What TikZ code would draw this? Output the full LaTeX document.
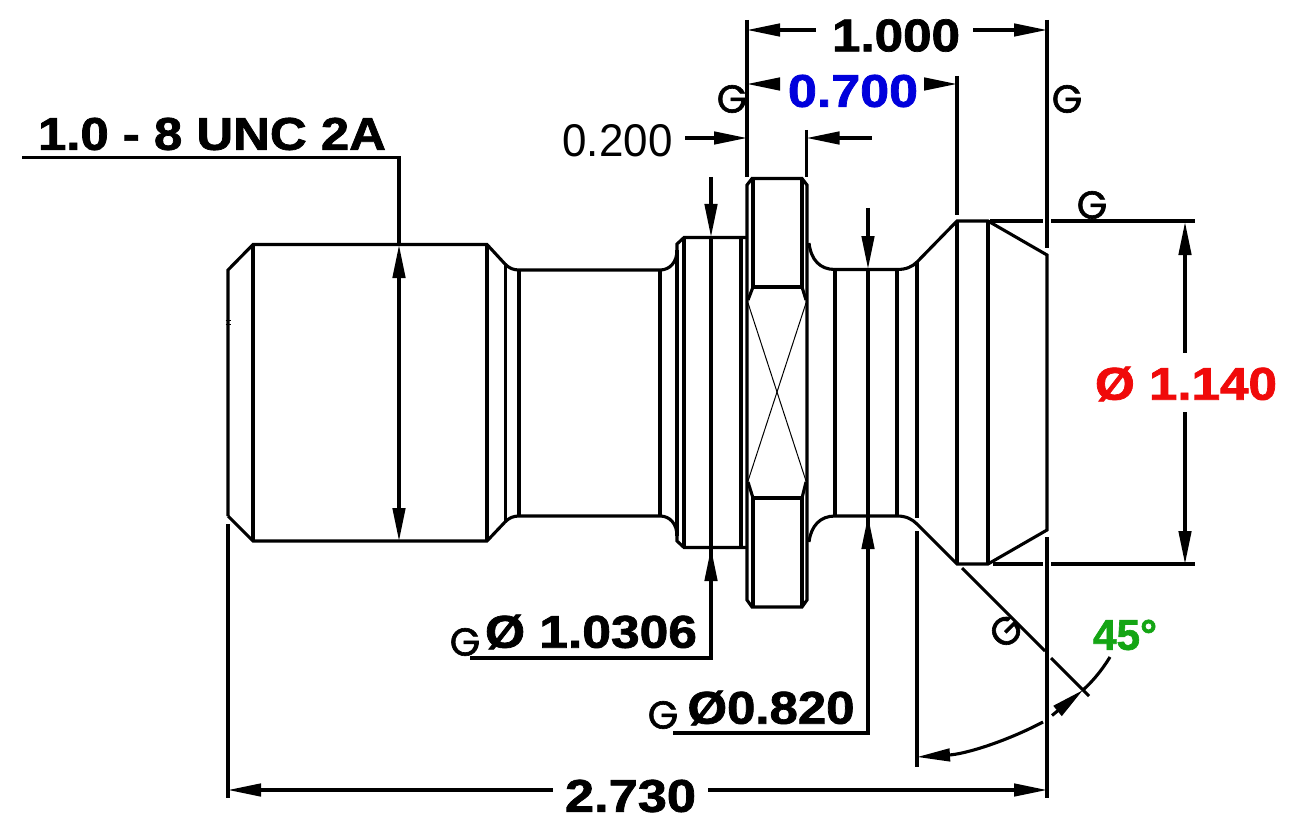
\documentclass[tikz,border=0pt]{standalone}
\usepackage{fontspec}
\usepackage{graphicx}
\usetikzlibrary{arrows.meta}
\setmainfont{Liberation Sans}
\newfontfamily\heavyfont[FakeBold=1.5]{Liberation Sans Bold}
\newfontfamily\gfont[FakeBold=1.6]{Poppins}
\definecolor{dimblue}{RGB}{0,0,220}
\definecolor{dimred}{RGB}{240,10,10}
\definecolor{dimgreen}{RGB}{20,165,20}
\newcommand{\fit}[3]{\resizebox{#1pt}{#2pt}{\heavyfont #3}}
\tikzset{
  part/.style={line width=3.1pt,black,line join=miter},
  thinpart/.style={line width=1pt,black},
  dimline/.style={line width=3.1pt,black},
  tipend/.style={-{Triangle[length=33pt,width=12.5pt]}},
  tipstart/.style={{Triangle[length=33pt,width=12.5pt]}-},
  tipboth/.style={{Triangle[length=33pt,width=12.5pt]}-{Triangle[length=33pt,width=12.5pt]}},
  lbl/.style={inner sep=0pt,outer sep=0pt,anchor=center},
  gmark/.style={inner sep=0pt,outer sep=0pt,anchor=center,font=\gfont\fontsize{39}{39}\selectfont},
}
\begin{document}
\begin{tikzpicture}[x=1pt,y=-1pt]
\useasboundingbox (0,0) rectangle (1295,837);
\fill[white] (0,0) rectangle (1295,837);
% outline upper half and lower half
\draw[part] (228,516) -- (228,270) -- (253,244.5) -- (487,244.5) -- (505,264)
  .. controls (509,268) and (513,270) .. (519,270) -- (660,270)
  .. controls (670,270) and (677,262) .. (677,250) -- (677,244) -- (684,237.5) -- (746,237.5);
\draw[part] (228,516) -- (253,541) -- (487,541) -- (505,522)
  .. controls (509,518) and (513,516) .. (519,516) -- (660,516)
  .. controls (670,516) and (677,524) .. (677,536) -- (677,541) -- (684,547.5) -- (746,547.5);
% neck verticals
\draw[part] (253,244.5) -- (253,541);
\draw[part] (487,244.5) -- (487,541);
\draw[part] (505.5,264) -- (505.5,522);
\draw[part] (519,270) -- (519,516);
\draw[part] (660,270) -- (660,516);
\draw[part] (677,250) -- (677,536);
\draw[part] (684,237.5) -- (684,547.5);
\draw[part] (741,237.5) -- (741,547.5);
% flange
\draw[part] (752,178.5) -- (802,178.5) -- (807,185) -- (807,600) -- (802,607) -- (752,607) -- (747,600) -- (747,185) -- cycle;
\draw[part] (753,178.5) -- (753,287) -- (802,287) -- (802,178.5);
\draw[part] (753,607) -- (753,498) -- (802,498) -- (802,607);
\draw[part] (753,287) -- (748,300);
\draw[part] (802,287) -- (806,300);
\draw[part] (753,498) -- (748,482);
\draw[part] (802,498) -- (806,482);
\draw[thinpart] (748,303) -- (806,481);
\draw[thinpart] (806,303) -- (748,481);
% head
\draw[part] (809,243) .. controls (811,260) and (820,269.5) .. (835,269.5) -- (897,269.5)
  .. controls (906,269.5) and (912,267) .. (917,262) -- (957,221) -- (988,221) -- (1047,255) -- (1047,530) -- (988,564) -- (957,564) -- (917,524)
  .. controls (912,519) and (906,516) .. (897,516) -- (835,516)
  .. controls (820,516) and (811,526) .. (809,542);
\draw[part] (835,269.5) -- (835,516);
\draw[part] (897,269.5) -- (897,516);
\draw[part] (917,262) -- (917,518);
\draw[part] (957,221) -- (957,564);
\draw[part] (988,221) -- (988,564);
% centre tick
\draw[line width=1pt] (225.5,320) -- (231,320) (225.5,324) -- (231,324);
% extension lines
\coordinate (exA) at (747,20);
\coordinate (exB) at (1047,20);
\draw[dimline] (exA) -- (747,177);
\draw[dimline] (exB) -- (1047,248);
\draw[dimline] (1047,537) -- (1047,798);
\draw[dimline] (806.5,130) -- (806.5,177);
\draw[dimline] (957,76) -- (957,215);
\draw[dimline] (228,524) -- (228,798);
\draw[dimline] (990,221) -- (1043,221) (1051,221) -- (1195,221);
\draw[dimline] (993,564) -- (1043,564) (1051,564) -- (1195,564);
\draw[dimline] (917,531) -- (917,767);
\draw[dimline] (962,568) -- (1045,651) (1051,658) -- (1089,696);
% 1.000
\node[lbl] (d1000) at (896,35.5) {\fit{128}{32}{1.000}};
\draw[dimline,tipstart] (747,30) -- (816,30);
\draw[dimline,tipend] (973,30) -- (1047,30);
% 0.700
\node[lbl] (d700) at (853,91) {\textcolor{dimblue}{\fit{130}{32}{0.700}}};
\draw[dimline,tipstart] (747,84) -- (780,84);
\draw[dimline,tipstart] (957,84) -- (924,84);
% 0.200
\node[lbl] (d200) at (617.5,141) {\resizebox{110pt}{32pt}{0.200}};
\draw[dimline,tipend] (685,138) -- (747,138);
\draw[dimline,tipstart] (806.5,138) -- (872,138);
% thread
\node[lbl] (thread) at (212,134) {\fit{348}{32}{1.0 - 8 UNC 2A}};
\draw[dimline] (22,157.5) -- (399,157.5) -- (399,245);
\draw[dimline,tipboth] (399,245) -- (399,541);
% 1.0306
\node[lbl] (d1030) at (591,632) {\fit{212}{33}{Ø 1.0306}};
\draw[dimline] (470,658) -- (711,658) -- (711,548);
\draw[dimline] (711,548) -- (711,237);
\draw[dimline,tipend] (711,177) -- (711,237);
\draw[dimline,tipstart] (711,548) -- (711,600);
% 0.820
\node[lbl] (d820) at (771,708) {\fit{167}{33}{Ø0.820}};
\draw[dimline] (673,733) -- (868,733) -- (868,516);
\draw[dimline] (868,516) -- (868,269);
\draw[dimline,tipend] (868,208) -- (868,269);
\draw[dimline,tipstart] (868,516) -- (868,570);
% 1.140
\node[lbl] (d1140) at (1186,384) {\textcolor{dimred}{\fit{182}{33}{Ø 1.140}}};
\draw[dimline,tipstart] (1185,222) -- (1185,353);
\draw[dimline,tipend] (1185,412) -- (1185,564);
% 2.730
\node[lbl] (d2730) at (630.5,796) {\fit{131}{32}{2.730}};
\draw[dimline,tipstart] (228,790) -- (553,790);
\draw[dimline,tipend] (708,790) -- (1047,790);
% 45 degrees
\node[lbl] (d45) at (1125,635) {\textcolor{dimgreen}{\fit{64}{30}{45°}}};
\draw[dimline,tipstart] (917,757) .. controls (965,754) and (1005,742) .. (1043,722);
\draw[dimline,tipend] (1052,715.5) -- (1083,690);
\draw[dimline] (1083,690) .. controls (1093,681) and (1102,670) .. (1110,657);
% G marks
\node[gmark] (g1) at (732,99) {G};
\node[gmark] (g2) at (1067,99) {G};
\node[gmark] (g3) at (1092,205) {G};
\node[gmark] (g4) at (465,642) {G};
\node[gmark] (g5) at (663,715) {G};
\node[gmark,rotate=45] (g6) at (1006,631) {G};
\end{tikzpicture}
\end{document}
